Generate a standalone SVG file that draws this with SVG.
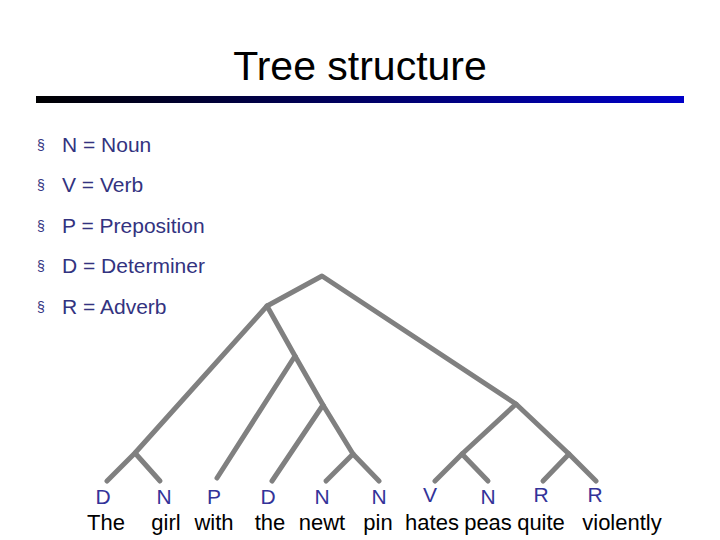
<svg xmlns="http://www.w3.org/2000/svg" width="720" height="540" viewBox="0 0 720 540">
<defs>
<linearGradient id="g" x1="0" x2="1" y1="0" y2="0"><stop offset="0" stop-color="#000"/><stop offset="1" stop-color="#0000c8"/></linearGradient>
</defs>
<style>
.t{font-family:"Liberation Sans",Arial,sans-serif}
.b{font-size:21px;fill:#333380}
.m{font-size:14px;fill:#333380}
.p{font-size:21px;fill:#333399;text-anchor:middle}
.w{font-size:22px;fill:#000;text-anchor:middle}
.e{stroke:#808080;stroke-width:5;stroke-linecap:round;stroke-linejoin:round;fill:none}
</style>
<rect width="720" height="540" fill="#fff"/>
<text class="t" x="360" y="80" font-size="41" text-anchor="middle">Tree structure</text>
<rect x="36" y="96" width="648" height="7" fill="url(#g)"/>
<g id="bullets" class="t">
<text class="m" x="37" y="150">§</text><text class="b" x="62" y="152">N = Noun</text>
<text class="m" x="37" y="190">§</text><text class="b" x="62" y="192">V = Verb</text>
<text class="m" x="37" y="231">§</text><text class="b" x="62" y="233">P = Preposition</text>
<text class="m" x="37" y="271">§</text><text class="b" x="62" y="273">D = Determiner</text>
<text class="m" x="37" y="312">§</text><text class="b" x="62" y="314">R = Adverb</text>
</g>
<g id="connectors" class="e">
<path d="M267,306 L322,276 L516,404"/>
<path d="M107,481 L135,453 L267,306 L295,356 L323,405 L353,454 L379,481"/>
<path d="M135,453 L160,481"/>
<path d="M217,478 L295,356"/>
<path d="M272,481 L323,405"/>
<path d="M326,481 L353,454"/>
<path d="M435,481 L462,454 L516,404 L569,454 L596,481"/>
<path d="M462,454 L488,481"/>
<path d="M543,481 L569,454"/>
</g>
<g id="pos" class="t">
<text class="p" x="103" y="504">D</text><text class="p" x="164" y="504">N</text><text class="p" x="214" y="504">P</text><text class="p" x="268" y="504">D</text><text class="p" x="322" y="504">N</text><text class="p" x="379" y="504">N</text><text class="p" x="430" y="502">V</text><text class="p" x="488" y="504">N</text><text class="p" x="541" y="502">R</text><text class="p" x="595" y="502">R</text>
</g>
<g id="words" class="t">
<text class="w" x="106" y="530">The</text><text class="w" x="166" y="530">girl</text><text class="w" x="214" y="530">with</text><text class="w" x="270" y="530">the</text><text class="w" x="322" y="530">newt</text><text class="w" x="378" y="530">pin</text><text class="w" x="432" y="530">hates</text><text class="w" x="488" y="530">peas</text><text class="w" x="541" y="530">quite</text><text class="w" x="622" y="530">violently</text>
</g>
</svg>
